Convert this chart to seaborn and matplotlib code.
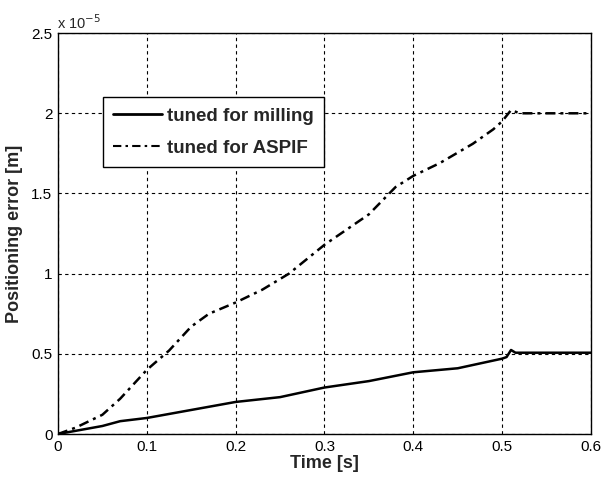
import matplotlib
matplotlib.use("Agg")
import matplotlib.pyplot as plt
import matplotlib.ticker as mticker
from matplotlib.lines import Line2D
import numpy as np
import pandas as pd
import seaborn as sns

# positioning error in units of 1e-5 m
t_aspif = [0.0, 0.02, 0.05, 0.07, 0.1, 0.125, 0.15, 0.17, 0.2, 0.23, 0.26, 0.3,
           0.35, 0.38, 0.4, 0.43, 0.467, 0.49, 0.5, 0.51, 0.52, 0.6]
e_aspif = [0.0, 0.04, 0.12, 0.22, 0.4, 0.52, 0.67, 0.75, 0.82, 0.9, 1.0, 1.18,
           1.37, 1.54, 1.61, 1.69, 1.81, 1.9, 1.95, 2.02, 2.0, 2.0]

t_mill = [0.0, 0.02, 0.05, 0.07, 0.1, 0.15, 0.2, 0.25, 0.3, 0.35, 0.4, 0.45,
          0.5, 0.505, 0.51, 0.515, 0.6]
e_mill = [0.0, 0.02, 0.05, 0.08, 0.1, 0.15, 0.2, 0.23, 0.29, 0.33, 0.385, 0.41,
          0.47, 0.48, 0.524, 0.507, 0.507]

sns.set_style("white")
plt.rcParams['font.family'] = ['Liberation Sans', 'DejaVu Sans']

df = pd.concat([
    pd.DataFrame({'t': t_mill, 'e': e_mill, 'series': 'tuned for milling'}),
    pd.DataFrame({'t': t_aspif, 'e': e_aspif, 'series': 'tuned for ASPIF'}),
])

fig = plt.figure(figsize=(6.02, 4.8), dpi=100)
ax = fig.add_axes([0.0963, 0.0958, 0.8854, 0.8352])

sns.lineplot(data=df, x='t', y='e', hue='series', palette=['black', 'black'],
             linewidth=1.8, ax=ax, sort=False, estimator=None, legend=False)
ax.lines[0].set_linestyle('-')
ax.lines[1].set_linestyle((0, (4, 2, 1.2, 2)))

ax.set_xlim(0, 0.6)
ax.set_ylim(0, 2.5)
ax.set_xticks(np.arange(0, 0.61, 0.1))
ax.set_yticks(np.arange(0, 2.51, 0.5))
ax.xaxis.set_major_formatter(mticker.FuncFormatter(lambda v, p: '%g' % round(v, 2)))
ax.yaxis.set_major_formatter(mticker.FuncFormatter(lambda v, p: '%g' % round(v, 2)))
ax.tick_params(direction='in', length=4, labelsize=11, colors='black', pad=4)
ax.grid(True, color='black', linestyle=(0, (3, 3)), linewidth=0.8)
for s in ax.spines.values():
    s.set_color('black')
    s.set_linewidth(1)

ax.set_xlabel('Time [s]', fontsize=13, fontweight='bold', labelpad=1)
ax.set_ylabel('Positioning error [m]', fontsize=13, fontweight='bold', labelpad=6)
ax.text(-0.002, 1.004, r'x 10$^{-5}$', transform=ax.transAxes, fontsize=10.5,
        ha='left', va='bottom')

handles = [Line2D([], [], color='black', lw=2, ls='-'),
           Line2D([], [], color='black', lw=1.5, ls=(0, (4, 2, 1.2, 2)))]
leg = ax.legend(handles, ['tuned for milling', 'tuned for ASPIF'],
                loc='upper left', bbox_to_anchor=(0.084, 0.84),
                prop={'weight': 'bold', 'size': 13.5}, frameon=True, fancybox=False,
                borderpad=0.55, labelspacing=0.8, handlelength=2.6, handletextpad=0.3,
                borderaxespad=0)
leg.get_frame().set_edgecolor('black')
leg.get_frame().set_linewidth(1)
leg.get_frame().set_alpha(1)

fig.savefig('out.png', dpi=100)
